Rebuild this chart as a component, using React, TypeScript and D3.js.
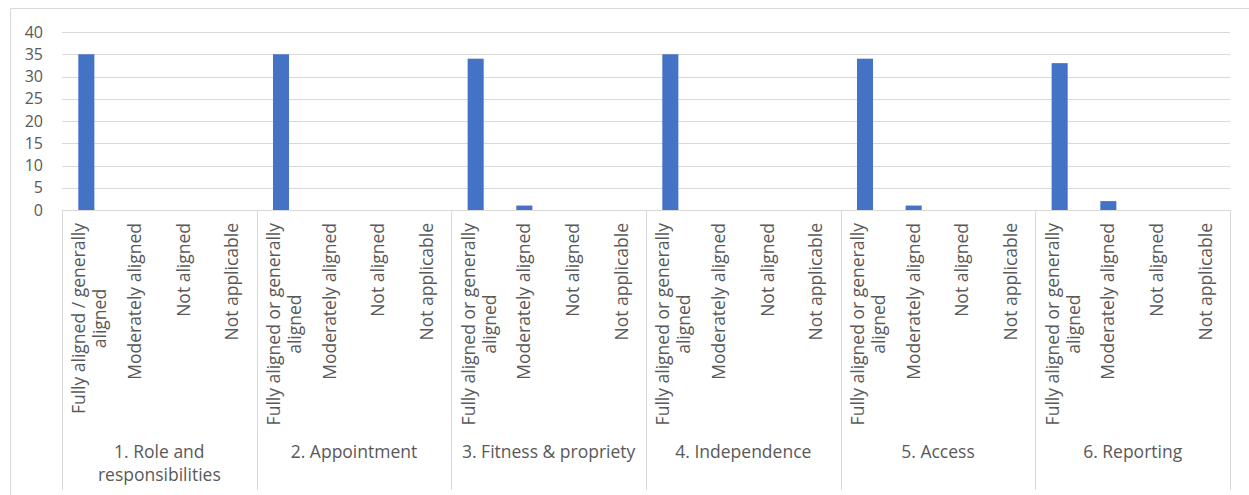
import React from "react";
import * as d3 from "d3";

const groups = [
  "1. Role and|responsibilities",
  "2. Appointment",
  "3. Fitness & propriety",
  "4. Independence",
  "5. Access",
  "6. Reporting",
];

const categoryLabels = [
  ["Fully aligned / generally|aligned", "Moderately aligned", "Not aligned", "Not applicable"],
  ["Fully aligned or generally|aligned", "Moderately aligned", "Not aligned", "Not applicable"],
  ["Fully aligned or generally|aligned", "Moderately aligned", "Not aligned", "Not applicable"],
  ["Fully aligned or generally|aligned", "Moderately aligned", "Not aligned", "Not applicable"],
  ["Fully aligned or generally|aligned", "Moderately aligned", "Not aligned", "Not applicable"],
  ["Fully aligned or generally|aligned", "Moderately aligned", "Not aligned", "Not applicable"],
];

const fullyAligned = [35, 35, 34, 35, 34, 33];
const moderatelyAligned = [0, 0, 1, 0, 1, 2];
const notAligned = [0, 0, 0, 0, 0, 0];
const notApplicable = [0, 0, 0, 0, 0, 0];

const yTicks = [0, 5, 10, 15, 20, 25, 30, 35, 40];

const W = 1249;
const H = 495;
const FONT = "'Open Sans', sans-serif";
const FS = 17.5;
const TICK_FS = 16;
const TEXT = "#595959";
const GRID = "#d9d9d9";
const BAR = "#4472C4";

let ctx: CanvasRenderingContext2D | null = null;
function measure(t: string): number {
  if (!ctx) {
    const c = document.createElement("canvas");
    ctx = c.getContext("2d");
  }
  if (!ctx) return t.length * 8;
  ctx.font = `${FS}px ${FONT}`;
  return ctx.measureText(t).width;
}

export default function App() {
  const plotLeft = 62;
  const plotRight = 1230;
  const yTop = 32;
  const yZero = 210;

  const y = d3.scaleLinear().domain([0, 40]).range([yZero, yTop]);
  const gx = d3.scaleBand<number>().domain(d3.range(groups.length)).range([plotLeft, plotRight]).padding(0);
  const cx = d3.scaleBand<number>().domain([0, 1, 2, 3]).range([0, gx.bandwidth()]).padding(0);
  const barW = cx.bandwidth() * 0.33;

  const series = [fullyAligned, moderatelyAligned, notAligned, notApplicable];

  const labelTop = 223;

  return (
    <div style={{ position: "absolute", left: 0, top: 0 }}>
      <svg width={W} height={H} style={{ display: "block", background: "#fff" }} fontFamily={FONT}>
        {/* outer border */}
        <line x1={10.5} y1={8.5} x2={W} y2={8.5} stroke={GRID} />
        <line x1={10.5} y1={8.5} x2={10.5} y2={H} stroke={GRID} />

        {/* grid */}
        {yTicks.map((t) => (
          <line key={t} x1={plotLeft} x2={plotRight} y1={Math.round(y(t)) + 0.5} y2={Math.round(y(t)) + 0.5} stroke={GRID} />
        ))}
        {yTicks.map((t) => (
          <text key={"l" + t} x={43} y={y(t)} dy="0.35em" textAnchor="end" fontSize={TICK_FS} fill={TEXT}>
            {t}
          </text>
        ))}

        {/* separators */}
        {d3.range(groups.length + 1).map((i) => {
          const x = i < groups.length ? gx(i)! : plotRight;
          return <line key={"s" + i} x1={Math.round(x) + 0.5} x2={Math.round(x) + 0.5} y1={yZero} y2={490} stroke={GRID} />;
        })}

        {/* bars */}
        {groups.map((g, gi) =>
          series.map((s, ci) => {
            const v = s[gi];
            if (v <= 0) return null;
            const c = gx(gi)! + cx(ci)! + cx.bandwidth() / 2;
            return <rect key={gi + "-" + ci} x={c - barW / 2} y={y(v)} width={barW} height={yZero - y(v)} fill={BAR} />;
          })
        )}

        {/* category labels */}
        {groups.map((g, gi) =>
          categoryLabels[gi].map((lab, ci) => {
            const c = gx(gi)! + cx(ci)! + cx.bandwidth() / 2;
            const lines = lab.split("|");
            const maxLen = Math.max(...lines.map(measure));
            const mid = labelTop + maxLen / 2;
            const offsets = lines.length === 1 ? [6] : [-1, 20];
            return (
              <g key={"c" + gi + "-" + ci}>
                {lines.map((ln, li) => (
                  <text
                    key={li}
                    transform={`translate(${c + offsets[li]},${mid}) rotate(-90)`}
                    textAnchor="middle"
                    fontSize={FS}
                    fill={TEXT}
                  >
                    {ln}
                  </text>
                ))}
              </g>
            );
          })
        )}

        {/* group labels */}
        {groups.map((g, gi) => {
          const c = gx(gi)! + gx.bandwidth() / 2;
          return g.split("|").map((ln, li) => (
            <text key={"g" + gi + li} x={c} y={458 + li * 23} textAnchor="middle" fontSize={FS} fill={TEXT}>
              {ln}
            </text>
          ));
        })}
      </svg>
    </div>
  );
}
